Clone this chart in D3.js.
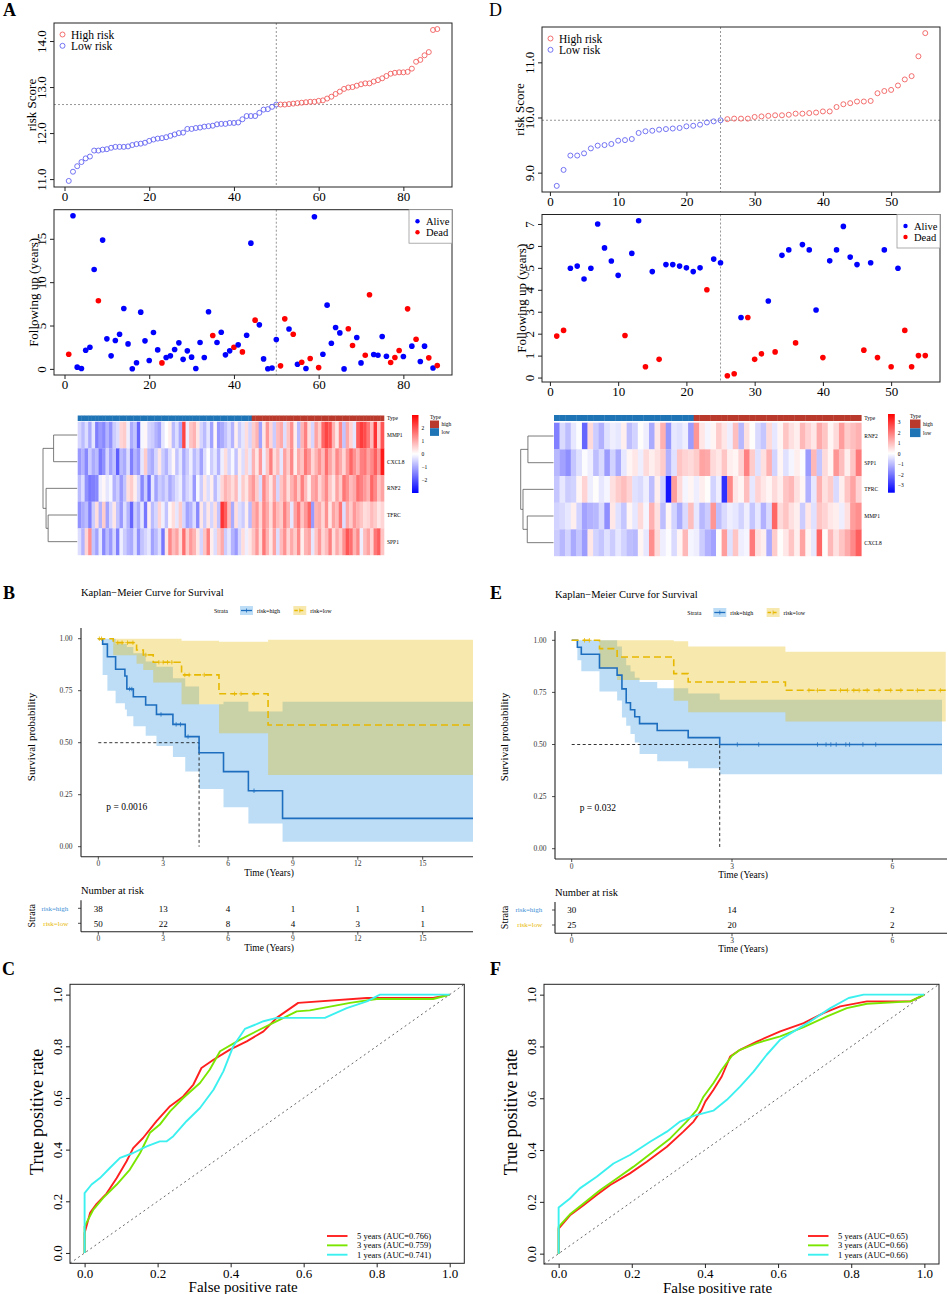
<!DOCTYPE html>
<html>
<head>
<meta charset="utf-8">
<script src="https://cdn.jsdelivr.net/npm/d3@7"></script>
<style>
  body { margin: 0; background: #fff; }
  svg { display: block; font-family: "Liberation Serif", "Times New Roman", serif; }
</style>
</head>
<body>
<div id="fig"></div>
<script>
// ---------------- data: risk score curves (A / D) ----------------
const riskScoreA = [10.96, 11.16, 11.28, 11.37, 11.45, 11.49, 11.62, 11.62, 11.64, 11.65,
  11.68, 11.70, 11.70, 11.70, 11.71, 11.74, 11.76, 11.77, 11.79, 11.83,
  11.86, 11.88, 11.89, 11.91, 11.94, 11.97, 12.00, 12.01, 12.09, 12.09,
  12.11, 12.12, 12.14, 12.15, 12.16, 12.19, 12.20, 12.20, 12.22, 12.22,
  12.23, 12.30, 12.37, 12.37, 12.37, 12.44, 12.51, 12.52, 12.57, 12.62,
  12.62, 12.62, 12.63, 12.64, 12.65, 12.66, 12.67, 12.68, 12.68, 12.70,
  12.71, 12.75, 12.79, 12.85, 12.90, 12.96, 12.99, 13.00, 13.03, 13.06,
  13.08, 13.08, 13.12, 13.15, 13.19, 13.24, 13.29, 13.31, 13.32, 13.32,
  13.33, 13.40, 13.55, 13.59, 13.69, 13.76, 14.24, 14.26];
const followUpA = [1.69, 17.65, 0.20, 0.05, 2.15, 2.50, 11.46, 7.85, 14.85, 3.46,
  1.50, 3.27, 4.00, 6.96, 2.88, 0.02, 0.70, 6.54, 3.23, 0.96,
  4.19, 2.19, 0.69, 1.31, 1.50, 2.23, 3.00, 1.10, 2.08, 1.35,
  0.05, 3.04, 1.31, 6.58, 3.85, 3.04, 4.23, 1.62, 2.08, 2.50,
  2.77, 1.96, 3.88, 14.50, 5.62, 5.08, 1.15, 0.02, 0.10, 3.38,
  0.35, 5.77, 4.60, 4.00, 0.54, 0.77, 0.04, 1.20, 17.54, 0.15,
  1.69, 7.35, 2.96, 4.77, 4.15, 0.00, 4.62, 2.69, 3.62, 0.69,
  1.58, 8.54, 1.65, 1.58, 3.73, 1.46, 0.73, 1.31, 2.12, 1.42,
  6.92, 2.62, 3.42, 0.85, 2.62, 1.27, 0.10, 0.38];
// 1 = Dead, 0 = Alive
const statusA = [1, 0, 0, 0, 0, 0, 0, 1, 0, 0,
  0, 0, 0, 0, 0, 0, 0, 0, 0, 0,
  0, 0, 1, 0, 0, 0, 0, 0, 0, 0,
  0, 0, 0, 0, 1, 0, 0, 0, 0, 1,
  0, 1, 0, 0, 1, 0, 0, 0, 0, 0,
  1, 1, 0, 1, 0, 1, 0, 1, 0, 1,
  0, 0, 0, 0, 0, 0, 1, 1, 0, 0,
  1, 1, 0, 0, 0, 0, 1, 1, 1, 0,
  1, 0, 1, 0, 0, 1, 0, 1];
const nLowA = 50;

const riskScoreD = [8.76, 9.05, 9.31, 9.31, 9.35, 9.44, 9.49, 9.50, 9.52, 9.58,
  9.59, 9.61, 9.72, 9.75, 9.76, 9.78, 9.79, 9.80, 9.81, 9.84,
  9.85, 9.87, 9.91, 9.93, 9.95, 9.97, 9.98, 9.98, 9.98, 10.01,
  10.02, 10.03, 10.04, 10.04, 10.05, 10.07, 10.07, 10.08, 10.09, 10.11,
  10.11, 10.19, 10.24, 10.26, 10.29, 10.29, 10.30, 10.44, 10.48, 10.50,
  10.58, 10.69, 10.75, 11.11, 11.53];
const followUpD = [1.89, 2.15, 4.98, 5.08, 4.49, 4.98, 7.00, 5.91, 5.31, 4.66,
  1.92, 5.66, 7.15, 0.49, 4.83, 0.83, 5.15, 5.15, 5.08, 5.00,
  4.83, 5.00, 4.00, 5.40, 5.23, 0.08, 0.17, 2.74, 2.74, 0.83,
  1.08, 3.49, 1.17, 5.57, 5.82, 1.58, 6.06, 5.82, 3.08, 0.91,
  5.32, 5.82, 6.89, 5.49, 5.15, 1.25, 5.23, 0.91, 5.82, 0.49,
  4.98, 2.15, 0.49, 1.00, 1.00];
const statusD = [1, 1, 0, 0, 0, 0, 0, 0, 0, 0,
  1, 0, 0, 1, 0, 1, 0, 0, 0, 0,
  0, 0, 1, 0, 0, 1, 1, 0, 1, 1,
  1, 0, 1, 0, 0, 1, 0, 0, 0, 1,
  0, 0, 0, 0, 0, 1, 0, 1, 0, 1,
  0, 1, 1, 1, 1];
const nLowD = 25;

// ---------------- data: heatmaps ----------------
const genesA = ["MMP1", "CXCL8", "RNF2", "TFRC", "SPP1"];
const heatA_MMP1 = [-0.5, -0.8, -0.4, -1.0, -0.3, -1.5, -1.2, -1.4, -0.9, -1.3,
  -0.6, -0.4, 0.5, 0.6, -0.2, -1.0, -0.7, -1.8, -0.1, 0.1,
  -0.5, -0.6, -0.9, -1.1, -0.3, 0.0, 0.2, -0.8, -0.4, -1.0,
  2.2, -0.2, 0.7, 0.9, 0.3, -0.5, -0.8, -0.3, -1.1, 0.1,
  -1.2, -1.0, -0.7, -0.4, -0.9, 0.2, -0.6, -0.3, 0.4, -0.5,
  0.6, 0.9, -1.1, 0.3, 1.2, 0.5, -0.6, 0.8, 1.0, -0.4,
  0.7, 1.3, 0.2, -0.8, 0.9, 1.5, 0.4, -0.5, 1.1, 0.6,
  1.8, 2.2, 2.0, 0.9, 0.3, 1.4, -0.7, 1.0, 0.5, -0.3,
  1.9, 2.3, 2.1, 1.6, 0.8, 2.4, 0.6, 2.0];
const heatA_CXCL8 = [-1.2, -0.9, -1.4, -0.6, -1.0, -0.8, -1.6, -1.3, -0.5, -1.1,
  -0.7, -1.9, -0.8, -1.0, -0.4, -1.5, -0.9, -1.2, -0.3, 0.6,
  -0.8, -1.0, -0.5, 0.3, -0.6, -0.9, -0.4, 0.1, -0.7, -0.3,
  -1.0, -0.6, -0.2, -0.8, -0.5, -1.1, -0.4, 0.0, -0.6, -0.3,
  -0.9, -0.2, 0.4, -0.5, -0.1, -0.7, 0.2, -0.4, 0.5, -0.3,
  0.9, 0.3, 1.2, -0.2, 0.7, 1.5, 0.4, 0.8, -0.3, 1.1,
  0.6, 1.4, 0.2, 1.0, 0.7, 1.6, 1.2, 0.5, 0.9, 1.3,
  0.8, 1.7, 1.1, 0.6, 1.4, 1.0, 0.5, 1.2, 1.8, 1.3,
  0.9, 1.5, 1.6, 1.1, 1.4, 1.9, 1.2, 2.7];
const heatA_RNF2 = [-0.8, -0.4, -1.3, -1.6, -1.5, -1.4, -0.2, 0.1, -0.3, -0.1,
  -0.9, -0.6, -1.2, -0.7, 0.4, 0.6, 0.2, -0.5, -1.4, -0.6,
  -1.7, -0.3, -1.1, -0.6, -0.8, -0.5, -1.0, -0.7, -0.4, -0.2,
  -0.9, -0.5, -0.3, -1.2, -0.1, -0.6, 0.3, -0.4, 0.2, -0.8,
  -0.3, 0.5, 0.9, 0.7, 0.4, 0.8, -0.2, 0.6, 0.3, 0.9,
  1.2, 0.6, -0.4, 1.4, 0.8, 0.3, 1.0, -0.5, 0.7, 1.1,
  0.4, 0.9, 1.3, 0.6, 1.5, 0.8, 0.2, 1.0, 1.2, 0.5,
  0.9, 1.4, 0.7, 0.3, 1.1, 0.6, 1.6, 1.3, 0.8, 1.0,
  1.7, 1.5, 1.2, 0.9, 1.8, 1.4, 0.7, 1.1];
const heatA_TFRC = [-1.3, -1.0, -0.8, -1.5, -0.6, 0.4, -0.9, 0.6, -1.1, -0.5,
  0.3, -0.7, -1.2, -0.4, -0.9, -1.8, -0.6, -1.0, -0.3, -1.6,
  0.2, -0.8, -0.5, 0.5, -0.2, -0.7, 0.1, 0.4, -0.3, 0.6,
  -0.5, -1.1, -0.9, -0.4, -1.4, 0.3, -0.6, 0.3, -0.5, 0.4,
  -0.7, 2.4, 1.9, 0.8, -1.0, 0.4, -0.4, -0.6, 0.2, -0.8,
  0.9, 1.2, 0.5, 1.4, 1.0, 0.4, 1.3, 0.8, 0.6, 1.5,
  0.9, -0.3, 1.1, 1.6, 0.7, 1.2, 1.8, -1.2, 0.9, 1.0,
  0.5, 1.3, 0.3, 1.1, 0.8, 1.6, -0.4, 1.0, 0.6, 1.2,
  0.9, 0.7, 0.4, 0.5, 0.8, 0.6, 0.3, 0.5];
const heatA_SPP1 = [-0.4, -0.9, 0.5, 1.3, -0.7, -1.1, -0.3, -1.4, -0.8, -1.2,
  -0.5, -1.5, -0.2, -0.6, -0.9, -1.0, -0.4, -1.3, -0.7, -0.5,
  -0.3, -1.1, -0.8, -0.4, -1.6, 0.3, 1.4, 0.8, 1.1, 0.4,
  1.7, 0.6, 1.2, 0.9, 0.3, -0.5, 0.7, 1.5, 0.2, -0.4,
  0.6, 1.0, -0.6, -0.3, -0.9, -1.2, -0.5, 0.4, -0.2, 0.3,
  0.7, 1.2, 0.4, 1.6, 0.9, 0.3, 1.1, -0.4, 0.8, 1.3,
  0.5, 1.0, 0.6, 1.4, 0.2, 0.9, 1.1, -0.3, 0.7, 1.2,
  0.5, 0.8, 1.5, 0.4, 1.0, 0.6, 1.3, 2.0, 1.7, 0.9,
  1.4, -0.2, 0.8, 1.1, 0.5, 1.6, 1.9, 0.7];
const heatRangeA = [-3, 3];
const heatTicksA = [2, 1, 0, -1, -2];
// hclust merges: [left, right, height]; >=0 leaf index, -k = k-th merge
const dendroA = [[0, 1, 6.9], [3, 4, 8.5], [2, -2, 9.1], [-1, -3, 10]];

const genesD = ["RNF2", "SPP1", "TFRC", "MMP1", "CXCL8"];
const heatD_RNF2 = [-1.8, -0.5, -0.9, -0.3, 0.0, -2.2, 0.6, -0.7, -1.1, -0.4,
  -0.2, -0.3, 0.3, -0.9, -0.6, 0.1, -0.2, -1.2, 0.4, 1.2,
  -1.5, -0.3, -0.4, -0.2, -1.4,
  1.6, 0.4, -0.1, 0.2, 0.8, 0.4, -0.2, 1.0, -1.0, 0.5,
  0.1, -0.5, -0.8, 0.6, -0.3, 0.2, 0.9, 0.5, 0.3, 1.1,
  0.7, 0.4, 1.3, 0.9, 0.2, 0.6, 1.5, 0.8, 1.0, 1.2];
const heatD_SPP1 = [-1.0, -1.3, -1.6, -0.8, -0.4, 0.0, -0.2, -0.9, -0.5, -1.4,
  -0.6, -1.2, -0.3, 0.2, 0.4, -0.2, 0.6, 0.3, 0.5, 0.8,
  -1.1, -0.4, 0.9, 0.7, 0.6,
  0.8, 1.4, 1.3, 0.6, 0.4, 0.9, 0.3, 0.2, 0.7, 1.9,
  0.8, -0.4, 0.5, 1.2, -0.6, 0.2, -0.4, -0.1, 0.3, 0.0,
  -1.4, 1.1, -0.8, 0.6, 0.2, 1.6, 1.0, 0.3, 0.9, 2.0];
const heatD_TFRC = [-0.8, -0.3, -0.7, -0.6, 0.2, 0.7, -0.2, 0.1, -0.3, -0.1,
  0.5, 0.8, 1.0, 0.7, -0.4, -0.5, -0.2, -0.9, 0.3, -0.6,
  -3.4, 1.5, 0.6, -0.1, 0.2,
  -0.2, 0.3, 0.1, -0.6, -0.2, -3.0, 1.8, 0.4, 0.2, 1.0,
  -0.3, 0.7, 0.4, 0.2, 0.6, 0.3, 0.9, 1.1, 0.5, 0.2,
  -1.1, -0.3, 1.2, 0.5, 0.8, -0.5, 0.3, 0.9, 1.4, 0.7];
const heatD_MMP1 = [-0.6, -0.5, -0.3, 0.3, -0.6, -1.3, -1.1, -1.0, -0.5, -1.6,
  0.4, -0.4, -0.8, 0.2, -0.3, 0.6, -0.1, 1.2, 0.5, -0.9,
  0.2, -0.6, -1.2, -0.5, 1.0,
  -0.3, -1.0, -0.7, 1.6, -0.9, -0.5, -0.2, -0.3, -0.6, -0.2,
  -0.8, -0.3, -1.1, -0.5, 2.3, 0.6, 0.9, 0.5, 0.3, -0.7,
  0.4, -0.4, 0.9, 0.7, 0.4, 0.3, -0.2, 0.5, 1.5, 1.7];
const heatD_CXCL8 = [-0.7, -1.0, -0.6, -1.2, -0.8, -1.4, 0.4, -0.6, -0.8, -0.4,
  -0.7, -0.3, -0.6, -0.9, -1.0, 0.2, -0.3, 1.7, 0.6, -0.2,
  0.0, -0.5, 0.2, 1.1, -0.1,
  -0.2, -0.7, -1.1, -1.3, 0.1, 1.5, -0.4, 0.9, -0.2, -0.1,
  2.0, 0.5, 0.3, -1.2, 0.8, 0.1, 0.4, 0.9, 0.3, 1.4,
  0.2, -0.3, 2.3, 0.1, 1.1, 0.5, 0.9, 1.3, 1.8, 2.4];
const heatRangeD = [-3.7, 3.8];
const heatTicksD = [3, 2, 1, 0, -1, -2, -3];
const dendroD = [[0, 1, 7.8], [3, 4, 8.0], [2, -2, 9.3], [-1, -3, 10]];

// ---------------- data: Kaplan-Meier (B / E) ----------------
const kmB_high_time = [0, 0.2, 0.42, 0.8, 1.23, 1.32, 1.62, 2.19, 2.69, 3.45, 4.02, 4.66, 5.79, 6.94, 8.52];
const kmB_high_surv = [1, 0.974, 0.913, 0.853, 0.821, 0.758, 0.721, 0.681, 0.636, 0.588, 0.529, 0.452, 0.361, 0.269, 0.136];
const kmB_high_lower = [1, 0.825, 0.75, 0.69, 0.66, 0.627, 0.579, 0.534, 0.484, 0.431, 0.361, 0.277, 0.19, 0.112, 0.024];
const kmB_high_upper = [1, 1, 1, 0.975, 0.975, 0.96, 0.93, 0.89, 0.865, 0.81, 0.77, 0.685, 0.697, 0.65, 0.697];
const kmB_high_censor = [1.45, 1.55, 2.9, 3.6, 3.8, 4.15, 7.2];
const kmB_low_time = [0, 0.69, 1.77, 2.08, 2.54, 3.85, 5.58, 7.85];
const kmB_low_surv = [1, 0.981, 0.946, 0.922, 0.887, 0.826, 0.735, 0.585];
const kmB_low_lower = [1, 0.92, 0.88, 0.85, 0.79, 0.685, 0.545, 0.345];
const kmB_low_upper = [1, 1, 1, 1, 1, 0.99, 0.985, 0.995];
const kmB_low_censor = [0.05, 0.15, 0.9, 1.1, 1.35, 1.6, 2.2, 2.8, 3.0, 3.2, 3.4, 4.0, 4.2, 4.9, 6.3, 6.6, 7.2];
const kmB_end = [17.5, 17.65];
const kmB_median = 4.66;
const riskTimesB = [0, 3, 6, 9, 12, 15];
const atRiskB_high = [38, 13, 4, 1, 1, 1];
const atRiskB_low = [50, 22, 8, 4, 3, 1];

const kmE_high_time = [0, 0.106, 0.18, 0.52, 0.85, 0.94, 1.02, 1.10, 1.18, 1.27, 1.60, 2.18, 2.77];
const kmE_high_surv = [1, 0.967, 0.933, 0.867, 0.833, 0.767, 0.70, 0.667, 0.633, 0.60, 0.567, 0.533, 0.50];
const kmE_high_lower = [1, 0.904, 0.851, 0.754, 0.711, 0.63, 0.59, 0.55, 0.51, 0.454, 0.42, 0.386, 0.357];
const kmE_high_upper = [1, 1, 1, 1, 0.97, 0.92, 0.88, 0.85, 0.82, 0.80, 0.77, 0.745, 0.715];
const kmE_high_censor = [3.1, 3.5, 4.6, 4.76, 4.85, 4.95, 5.13, 5.2, 5.45, 5.69];
const kmE_low_time = [0, 0.52, 0.85, 1.91, 2.18, 4.0];
const kmE_low_surv = [1, 0.96, 0.92, 0.84, 0.80, 0.76];
const kmE_low_lower = [1, 0.862, 0.81, 0.71, 0.655, 0.61];
const kmE_low_upper = [1, 1, 1, 0.995, 0.97, 0.945];
const kmE_low_censor = [0.24, 0.33, 4.44, 4.6, 5.03, 5.16, 5.28, 5.38, 5.53, 5.75, 5.97, 6.16, 6.47, 6.9];
const kmE_end = [6.93, 7.0];
const kmE_median = 2.77;
const riskTimesE = [0, 3, 6];
const atRiskE_high = [30, 14, 2];
const atRiskE_low = [25, 20, 2];

// ---------------- data: time-dependent ROC (C / F) ----------------
const rocC_5y_fpr = [0, 0, 0.015, 0.033, 0.06, 0.088, 0.115, 0.133, 0.16, 0.197, 0.234, 0.27, 0.298, 0.32, 0.353, 0.398, 0.444, 0.49, 0.526, 0.585, 0.773, 0.955, 1.0];
const rocC_5y_tpr = [0, 0.077, 0.155, 0.19, 0.23, 0.29, 0.355, 0.406, 0.445, 0.51, 0.568, 0.606, 0.652, 0.716, 0.748, 0.787, 0.819, 0.858, 0.91, 0.968, 0.987, 0.987, 1.0];
const rocC_3y_fpr = [0, 0, 0.024, 0.051, 0.088, 0.124, 0.152, 0.179, 0.206, 0.234, 0.27, 0.316, 0.343, 0.371, 0.426, 0.48, 0.535, 0.581, 0.617, 0.727, 0.8, 0.955, 1.0];
const rocC_3y_tpr = [0, 0.103, 0.168, 0.213, 0.265, 0.323, 0.387, 0.465, 0.497, 0.548, 0.6, 0.658, 0.71, 0.781, 0.826, 0.865, 0.903, 0.935, 0.939, 0.968, 0.983, 0.983, 1.0];
const rocC_1y_fpr = [0, 0, 0.019, 0.042, 0.069, 0.097, 0.133, 0.17, 0.206, 0.225, 0.243, 0.279, 0.316, 0.353, 0.38, 0.407, 0.439, 0.49, 0.526, 0.658, 0.718, 0.773, 0.809, 1.0];
const rocC_1y_tpr = [0, 0.232, 0.265, 0.29, 0.329, 0.368, 0.387, 0.413, 0.432, 0.432, 0.452, 0.51, 0.561, 0.632, 0.703, 0.8, 0.867, 0.897, 0.91, 0.91, 0.948, 0.974, 1.0, 1.0];
const aucC = ["0.766", "0.759", "0.741"];

const rocF_5y_fpr = [0, 0, 0.031, 0.068, 0.104, 0.141, 0.195, 0.241, 0.296, 0.341, 0.369, 0.391, 0.401, 0.423, 0.446, 0.469, 0.496, 0.542, 0.606, 0.67, 0.724, 0.77, 0.843, 0.962, 1.0];
const rocF_5y_tpr = [0, 0.097, 0.148, 0.187, 0.226, 0.265, 0.31, 0.355, 0.413, 0.471, 0.51, 0.555, 0.587, 0.632, 0.684, 0.761, 0.787, 0.819, 0.858, 0.89, 0.929, 0.955, 0.974, 0.974, 1.0];
const rocF_3y_fpr = [0, 0, 0.031, 0.068, 0.113, 0.159, 0.204, 0.259, 0.305, 0.35, 0.378, 0.396, 0.423, 0.446, 0.474, 0.496, 0.542, 0.606, 0.67, 0.734, 0.788, 0.843, 0.962, 1.0];
const rocF_3y_tpr = [0, 0.103, 0.152, 0.194, 0.245, 0.29, 0.335, 0.394, 0.445, 0.51, 0.555, 0.606, 0.658, 0.71, 0.764, 0.787, 0.813, 0.839, 0.875, 0.916, 0.948, 0.965, 0.974, 1.0];
const rocF_1y_fpr = [0, 0, 0.031, 0.058, 0.104, 0.15, 0.195, 0.25, 0.296, 0.332, 0.369, 0.423, 0.46, 0.496, 0.533, 0.569, 0.606, 0.651, 0.688, 0.743, 0.793, 0.834, 1.0];
const rocF_1y_tpr = [0, 0.178, 0.213, 0.252, 0.297, 0.348, 0.381, 0.432, 0.471, 0.51, 0.532, 0.552, 0.594, 0.645, 0.703, 0.768, 0.826, 0.865, 0.897, 0.948, 0.987, 1.0, 1.0];
const aucF = ["0.65", "0.66", "0.66"];
const rocYears = ["5 years", "3 years", "1 years"];

// ---------------- styles ----------------
const FONT = '"Liberation Serif", "Times New Roman", serif';
const LOW_PT = "#6464f2", HIGH_PT = "#f25f5f";
const TYPE_LOW = "#1f74b5", TYPE_HIGH = "#b93a2c";
const KM_HIGH = "#1e6ec0", KM_HIGH_FILL = "#2e95df", KM_LOW = "#e7b800";
const ROC_COLS = ["#ff1f1f", "#7ae600", "#3cf0f0"];

const W = 948, H = 1294;
const svg = d3.select("#fig").append("svg")
  .attr("width", W).attr("height", H)
  .attr("viewBox", "0 0 " + W + " " + H);
const defs = svg.append("defs");

function txt(g, x, y, s, size, opt) {
  opt = opt || {};
  const t = g.append("text").attr("x", x).attr("y", y)
    .attr("font-size", size).attr("font-family", FONT).text(s);
  if (opt.anchor) t.attr("text-anchor", opt.anchor);
  if (opt.weight) t.attr("font-weight", opt.weight);
  t.attr("fill", opt.fill || "#000");
  if (opt.rotate) t.attr("dy", "0.35em").attr("transform", "rotate(-90," + x + "," + y + ")");
  return t;
}

// R style padded scale (4% each side)
function padScale(vals, r0, r1) {
  const e = d3.extent(vals), p = (e[1] - e[0]) * 0.04;
  return d3.scaleLinear().domain([e[0] - p, e[1] + p]).range([r0, r1]);
}

// base-graphics like axis
function rAxis(g, scale, ticks, orient, pos, fmt, size) {
  const ax = (orient === "bottom" ? d3.axisBottom(scale) : d3.axisLeft(scale))
    .tickValues(ticks).tickSize(4).tickPadding(1).tickFormat(fmt);
  const a = g.append("g")
    .attr("transform", orient === "bottom" ? "translate(0," + pos + ")" : "translate(" + pos + ",0)")
    .call(ax);
  a.select(".domain").remove();
  a.selectAll("line").attr("stroke", "#222");
  a.selectAll("text").attr("font-size", size).attr("font-family", FONT).attr("fill", "#000");
  if (orient === "left") {
    a.selectAll("text").attr("transform", "rotate(-90)")
      .attr("x", 0).attr("y", -8).attr("dy", 0).attr("text-anchor", "middle");
  }
  return a;
}

function box(g, o) {
  g.append("rect").attr("x", o.x0).attr("y", o.y0)
    .attr("width", o.x1 - o.x0).attr("height", o.y1 - o.y0)
    .attr("fill", "none").attr("stroke", "#222").attr("stroke-width", 1);
}

function dotted(g, x1, y1, x2, y2) {
  g.append("line").attr("x1", x1).attr("y1", y1).attr("x2", x2).attr("y2", y2)
    .attr("stroke", "#8a8a8a").attr("stroke-width", 0.9).attr("stroke-dasharray", "2,2");
}

// ---------------- risk score scatter ----------------
function riskPanel(o) {
  const n = o.score.length, idx = d3.range(1, n + 1);
  const x = padScale(idx, o.x0, o.x1), y = padScale(o.score, o.y1, o.y0);
  const g = svg.append("g");
  const cut = o.score[o.nLow - 1];
  dotted(g, x(o.nLow), o.y0, x(o.nLow), o.y1);
  dotted(g, o.x0, y(cut), o.x1, y(cut));
  g.selectAll(null).data(idx).enter().append("circle")
    .attr("cx", i => x(i)).attr("cy", i => y(o.score[i - 1])).attr("r", 2.5)
    .attr("fill", "none").attr("stroke-width", 0.9)
    .attr("stroke", i => i <= o.nLow ? LOW_PT : HIGH_PT);
  box(g, o);
  rAxis(g, x, o.xTicks, "bottom", o.y1, d3.format("d"), 13);
  rAxis(g, y, o.yTicks, "left", o.x0, d3.format(".1f"), 13);
  txt(g, o.x0 - 23, (o.y0 + o.y1) / 2, "risk Score", 13, { anchor: "middle", rotate: true });
  [["High risk", HIGH_PT], ["Low risk", LOW_PT]].forEach((d, i) => {
    g.append("circle").attr("cx", o.x0 + 8.5).attr("cy", o.y0 + 11.5 + i * 11.3).attr("r", 2.5)
      .attr("fill", "none").attr("stroke", d[1]).attr("stroke-width", 0.9);
    txt(g, o.x0 + 17, o.y0 + 15.5 + i * 11.3, d[0], 11.5);
  });
}

// ---------------- follow-up scatter ----------------
function followPanel(o) {
  const n = o.time.length, idx = d3.range(1, n + 1);
  const x = padScale(idx, o.x0, o.x1), y = padScale(o.time, o.y1, o.y0);
  const g = svg.append("g");
  dotted(g, x(o.nLow), o.y0, x(o.nLow), o.y1);
  g.selectAll(null).data(idx).enter().append("circle")
    .attr("cx", i => x(i)).attr("cy", i => y(o.time[i - 1])).attr("r", 2.8)
    .attr("fill", i => o.status[i - 1] ? "#ff0000" : "#0000ff");
  box(g, o);
  rAxis(g, x, o.xTicks, "bottom", o.y1, d3.format("d"), 13);
  rAxis(g, y, o.yTicks, "left", o.x0, d3.format("d"), 13);
  txt(g, o.x0 - 21, (o.y0 + o.y1) / 2, "Following up (years)", 13, { anchor: "middle", rotate: true });
  const lw = 43, lh = 33.5;
  g.append("rect").attr("x", o.x1 - lw).attr("y", o.y0).attr("width", lw).attr("height", lh)
    .attr("fill", "#fff").attr("stroke", "#9a9a9a").attr("stroke-width", 0.8);
  [["Alive", "#0000ff"], ["Dead", "#ff0000"]].forEach((d, i) => {
    g.append("circle").attr("cx", o.x1 - lw + 8.5).attr("cy", o.y0 + 11.5 + i * 11).attr("r", 2.2).attr("fill", d[1]);
    txt(g, o.x1 - lw + 17, o.y0 + 15 + i * 11, d[0], 10.5);
  });
}

// ---------------- heatmap ----------------
function heatPanel(o) {
  const nCol = o.rows[0].length;
  const xb = d3.scaleBand().domain(d3.range(nCol)).range([o.x0, o.x1]);
  const yb = d3.scaleBand().domain(o.genes).range([o.y0, o.y1]);
  const col = d3.scaleLinear()
    .domain([o.range[0], (o.range[0] + o.range[1]) / 2, o.range[1]])
    .range(["#0000ff", "#ffffff", "#ff0000"]).clamp(true);
  const g = svg.append("g");
  g.selectAll(null).data(d3.range(nCol)).enter().append("rect")
    .attr("x", i => xb(i)).attr("y", o.ty0).attr("width", xb.bandwidth() + 0.3)
    .attr("height", o.ty1 - o.ty0).attr("fill", i => i < o.nLow ? TYPE_LOW : TYPE_HIGH);
  const cells = [];
  o.rows.forEach((r, gi) => r.forEach((v, ci) => cells.push({ g: o.genes[gi], c: ci, v: v })));
  g.selectAll(null).data(cells).enter().append("rect")
    .attr("x", d => xb(d.c)).attr("y", d => yb(d.g))
    .attr("width", xb.bandwidth() + 0.3).attr("height", yb.bandwidth() + 0.2)
    .attr("fill", d => col(d.v));
  txt(g, o.x1 + 3, (o.ty0 + o.ty1) / 2 + 2, "Type", 5.5);
  o.genes.forEach(gn => txt(g, o.x1 + 3, yb(gn) + yb.bandwidth() / 2 + 2, gn, 5.5));

  // dendrogram
  const dx = d3.scaleLinear().domain([0, o.dendroMax]).range([o.x0 - 0.5, o.dendroX]);
  const nodes = [];
  const pos = k => k >= 0 ? { y: yb(o.genes[k]) + yb.bandwidth() / 2, h: 0 } : nodes[-k - 1];
  o.merges.forEach(m => {
    const a = pos(m[0]), b = pos(m[1]), hx = dx(m[2]);
    g.append("path")
      .attr("d", "M" + dx(a.h) + "," + a.y + "H" + hx + "V" + b.y + "H" + dx(b.h))
      .attr("fill", "none").attr("stroke", "#5a5a5a").attr("stroke-width", 0.8);
    nodes.push({ y: (a.y + b.y) / 2, h: m[2] });
  });

  // colour key
  const grad = defs.append("linearGradient").attr("id", "grad" + o.id)
    .attr("x1", 0).attr("x2", 0).attr("y1", 0).attr("y2", 1);
  d3.range(0, 1.0001, 0.05).forEach(f => grad.append("stop").attr("offset", f)
    .attr("stop-color", col(o.range[1] - f * (o.range[1] - o.range[0]))));
  g.append("rect").attr("x", o.kx).attr("y", o.ky0).attr("width", o.kw).attr("height", o.ky1 - o.ky0)
    .attr("fill", "url(#grad" + o.id + ")");
  const ks = d3.scaleLinear().domain([o.range[1], o.range[0]]).range([o.ky0, o.ky1]);
  o.ticks.forEach(t => txt(g, o.kx + o.kw + 3, ks(t) + 1.8, t < 0 ? "\u2212" + (-t) : String(t), 5.5));

  // annotation legend
  txt(g, o.tx, o.ky0 + 3.5, "Type", 5.5);
  [["high", TYPE_HIGH], ["low", TYPE_LOW]].forEach((d, i) => {
    g.append("rect").attr("x", o.tx).attr("y", o.ky0 + 5.5 + i * o.sh).attr("width", o.sw).attr("height", o.sh)
      .attr("fill", d[1]);
    txt(g, o.tx + o.sw + 2.5, o.ky0 + 5.5 + i * o.sh + o.sh / 2 + 2, d[0], 5.5);
  });
}

// ---------------- Kaplan-Meier ----------------
function kmPanel(o) {
  const x = d3.scaleLinear().domain([0, o.tRef]).range([o.px0, o.pxRef]);
  const y = d3.scaleLinear().domain([0, 1]).range([o.py0, o.py1]);
  const g = svg.append("g");
  defs.append("clipPath").attr("id", "clip" + o.id).append("rect")
    .attr("x", o.ax).attr("y", o.top).attr("width", o.right - o.ax).attr("height", o.axY - o.top);
  const pg = g.append("g").attr("clip-path", "url(#clip" + o.id + ")");
  const series = o.curves.map(c => {
    const pts = c.time.map((t, i) => ({ t: t, s: c.surv[i], lo: c.lower[i], up: c.upper[i] }));
    pts.push(Object.assign({}, pts[pts.length - 1], { t: c.end }));
    return { c: c, pts: pts };
  });
  series.forEach(sr => {
    pg.append("path")
      .attr("d", d3.area().curve(d3.curveStepAfter).x(d => x(d.t)).y0(d => y(d.lo)).y1(d => y(d.up))(sr.pts))
      .attr("fill", sr.c.fill).attr("fill-opacity", 0.32);
  });
  pg.append("path")
    .attr("d", "M" + x(0) + "," + y(0.5) + "H" + x(o.median) + "V" + y(0))
    .attr("fill", "none").attr("stroke", "#000").attr("stroke-width", 0.8).attr("stroke-dasharray", "3,2.5");
  series.forEach(sr => {
    pg.append("path")
      .attr("d", d3.line().curve(d3.curveStepAfter).x(d => x(d.t)).y(d => y(d.s))(sr.pts))
      .attr("fill", "none").attr("stroke", sr.c.color).attr("stroke-width", 1.6)
      .attr("stroke-dasharray", sr.c.dash || null);
    sr.c.censor.forEach(ct => {
      const s = sr.c.surv[d3.bisectRight(sr.c.time, ct) - 1];
      pg.append("path").attr("d", "M" + (x(ct) - 2.2) + "," + y(s) + "h4.4M" + x(ct) + "," + (y(s) - 2.2) + "v4.4")
        .attr("stroke", sr.c.color).attr("stroke-width", 0.8);
    });
  });

  // axes
  const ax = g.append("g").attr("stroke", "#222");
  ax.append("line").attr("x1", o.ax).attr("x2", o.ax).attr("y1", o.top).attr("y2", o.axY).attr("stroke-width", 1.1);
  ax.append("line").attr("x1", o.ax).attr("x2", o.right).attr("y1", o.axY).attr("y2", o.axY).attr("stroke-width", 1.1);
  const yt = [0, 0.25, 0.5, 0.75, 1];
  yt.forEach(v => {
    ax.append("line").attr("x1", o.ax - 3).attr("x2", o.ax).attr("y1", y(v)).attr("y2", y(v)).attr("stroke-width", 0.8);
    txt(g, o.ax - 8.5, y(v) + 2.6, d3.format(".2f")(v), 7.5, { anchor: "end", fill: "#333" });
  });
  o.ticks.forEach(t => {
    ax.append("line").attr("x1", x(t)).attr("x2", x(t)).attr("y1", o.axY).attr("y2", o.axY + 3).attr("stroke-width", 0.8);
    txt(g, x(t), o.axY + 9.5, String(t), 7.5, { anchor: "middle", fill: "#333" });
  });
  txt(g, (o.ax + o.right) / 2 - 8, o.axY + 19, "Time (Years)", 9.5, { anchor: "middle" });
  txt(g, o.ylabX, o.ylabY, "Survival probability", 11, { anchor: "middle", rotate: true });
  txt(g, o.px0 + 8, o.pY, o.pText, 9.5);
  txt(g, o.ax, o.titleY, "Kaplan\u2212Meier Curve for Survival", 10.5);

  // legend
  txt(g, o.legX, o.legY + 2, "Strata", 6);
  o.curves.forEach((c, i) => {
    const lx = o.legX + 26 + i * 53.3;
    g.append("rect").attr("x", lx).attr("y", o.legY - 4.5).attr("width", 13).attr("height", 9)
      .attr("fill", c.fill).attr("fill-opacity", 0.32);
    g.append("line").attr("x1", lx + 1).attr("x2", lx + 12).attr("y1", o.legY).attr("y2", o.legY)
      .attr("stroke", c.color).attr("stroke-width", 1.3).attr("stroke-dasharray", c.dash ? "3.5,2" : null);
    g.append("line").attr("x1", lx + 6.5).attr("x2", lx + 6.5).attr("y1", o.legY - 2).attr("y2", o.legY + 2)
      .attr("stroke", c.color).attr("stroke-width", 0.8);
    txt(g, lx + 17, o.legY + 2, c.name, 6);
  });

  // number at risk table
  txt(g, o.ax, o.tabTitleY, "Number at risk", 10.5);
  const tab = g.append("g").attr("stroke", "#222");
  tab.append("line").attr("x1", o.ax).attr("x2", o.ax).attr("y1", o.rowY[0] - 8).attr("y2", o.tabAxY).attr("stroke-width", 1.1);
  tab.append("line").attr("x1", o.ax).attr("x2", o.right).attr("y1", o.tabAxY).attr("y2", o.tabAxY).attr("stroke-width", 1.1);
  o.curves.forEach((c, i) => {
    tab.append("line").attr("x1", o.ax - 3).attr("x2", o.ax).attr("y1", o.rowY[i]).attr("y2", o.rowY[i]).attr("stroke-width", 0.8);
    txt(g, o.ax - 12.7, o.rowY[i] + 2.4, c.name, 7, { anchor: "end", fill: c.label });
    o.riskTimes.forEach((t, j) => txt(g, x(t), o.rowY[i] + 3.2, String(c.atRisk[j]), 9, { anchor: "middle" }));
  });
  o.riskTimes.forEach(t => {
    tab.append("line").attr("x1", x(t)).attr("x2", x(t)).attr("y1", o.tabAxY).attr("y2", o.tabAxY + 3).attr("stroke-width", 0.8);
    txt(g, x(t), o.tabAxY + 9.5, String(t), 7.5, { anchor: "middle", fill: "#333" });
  });
  txt(g, (o.ax + o.right) / 2 - 8, o.tabAxY + 19, "Time (Years)", 9.5, { anchor: "middle" });
  txt(g, o.ylabX, (o.rowY[0] + o.rowY[1]) / 2, "Strata", 10, { anchor: "middle", rotate: true });
}

// ---------------- ROC ----------------
function rocPanel(o) {
  const x = d3.scaleLinear().domain([-0.04, 1.04]).range([o.x0, o.x1]);
  const y = d3.scaleLinear().domain([-0.04, 1.04]).range([o.y1, o.y0]);
  const g = svg.append("g");
  g.append("line").attr("x1", x(-0.04)).attr("y1", y(-0.04)).attr("x2", x(1.04)).attr("y2", y(1.04))
    .attr("stroke", "#666").attr("stroke-width", 1).attr("stroke-dasharray", "2,3");
  o.curves.forEach((c, i) => {
    const pts = c.fpr.map((f, k) => [f, c.tpr[k]]);
    g.append("path").attr("d", d3.line().x(d => x(d[0])).y(d => y(d[1]))(pts))
      .attr("fill", "none").attr("stroke", ROC_COLS[i]).attr("stroke-width", 1.9)
      .attr("stroke-linejoin", "round");
  });
  box(g, o);
  const t = d3.range(0, 1.0001, 0.2);
  rAxis(g, x, t, "bottom", o.y1, d3.format(".1f"), 13);
  rAxis(g, y, t, "left", o.x0, d3.format(".1f"), 13);
  txt(g, o.x0 - 33, (o.y0 + o.y1) / 2 - 12, "True positive rate", 18, { anchor: "middle", rotate: true });
  txt(g, (o.x0 + o.x1) / 2 - 24, o.y1 + 28.5, "False positive rate", 15, { anchor: "middle" });
  o.curves.forEach((c, i) => {
    const ly = o.legY + i * 9.35;
    g.append("line").attr("x1", o.legX).attr("x2", o.legX + 20.5).attr("y1", ly).attr("y2", ly)
      .attr("stroke", ROC_COLS[i]).attr("stroke-width", 1.9);
    txt(g, o.legX + o.legGap, ly + 2.8, rocYears[i] + " (AUC=" + c.auc + ")", 8.5);
  });
}

// ---------------- panel labels ----------------
txt(svg, 3, 16, "A", 18, { weight: "bold" });
txt(svg, 489, 16, "D", 18);
txt(svg, 3, 598.5, "B", 18, { weight: "bold" });
txt(svg, 490, 599, "E", 18, { weight: "bold" });
txt(svg, 2, 975, "C", 18, { weight: "bold" });
txt(svg, 490, 975, "F", 18, { weight: "bold" });

// ---------------- draw ----------------
riskPanel({ score: riskScoreA, nLow: nLowA, x0: 54, x1: 452, y0: 23, y1: 187,
  xTicks: [0, 20, 40, 60, 80], yTicks: [11, 12, 13, 14] });
followPanel({ time: followUpA, status: statusA, nLow: nLowA, x0: 54, x1: 452, y0: 209.7, y1: 375,
  xTicks: [0, 20, 40, 60, 80], yTicks: [0, 5, 10, 15] });
riskPanel({ score: riskScoreD, nLow: nLowD, x0: 542, x1: 940, y0: 27, y1: 192,
  xTicks: [0, 10, 20, 30, 40, 50], yTicks: [9, 10, 11] });
followPanel({ time: followUpD, status: statusD, nLow: nLowD, x0: 542, x1: 940, y0: 214.5, y1: 382,
  xTicks: [0, 10, 20, 30, 40, 50], yTicks: [0, 1, 2, 3, 4, 5, 6, 7] });

heatPanel({ id: "A", genes: genesA, rows: [heatA_MMP1, heatA_CXCL8, heatA_RNF2, heatA_TFRC, heatA_SPP1],
  nLow: nLowA, range: heatRangeA, ticks: heatTicksA, merges: dendroA, dendroMax: 10,
  x0: 77.7, x1: 384, ty0: 415.5, ty1: 421, y0: 421.7, y1: 555, dendroX: 43,
  kx: 412, kw: 6.5, ky0: 415, ky1: 493, tx: 430, sw: 9, sh: 7.7 });
heatPanel({ id: "D", genes: genesD, rows: [heatD_RNF2, heatD_SPP1, heatD_TFRC, heatD_MMP1, heatD_CXCL8],
  nLow: nLowD, range: heatRangeD, ticks: heatTicksD, merges: dendroD, dendroMax: 10,
  x0: 554, x1: 861.3, ty0: 415, ty1: 421, y0: 422.7, y1: 556, dendroX: 520.7,
  kx: 888, kw: 6.8, ky0: 414, ky1: 492.7, tx: 910, sw: 10.5, sh: 8.8 });

kmPanel({ id: "B", tRef: 15, px0: 98.3, pxRef: 422.7, py0: 846.7, py1: 638.7,
  ax: 81, right: 473, top: 628, axY: 856.7, ticks: [0, 3, 6, 9, 12, 15], median: kmB_median,
  pText: "p = 0.0016", pY: 809.5, titleY: 596, legX: 214, legY: 610.5,
  ylabX: 31.5, ylabY: 737, tabTitleY: 894, rowY: [908.3, 923.3], tabAxY: 931.7, riskTimes: riskTimesB,
  curves: [
    { name: "risk=high", time: kmB_high_time, surv: kmB_high_surv, lower: kmB_high_lower, upper: kmB_high_upper,
      censor: kmB_high_censor, end: kmB_end[0], color: KM_HIGH, fill: KM_HIGH_FILL, label: "#3d8fd6", atRisk: atRiskB_high },
    { name: "risk=low", time: kmB_low_time, surv: kmB_low_surv, lower: kmB_low_lower, upper: kmB_low_upper,
      censor: kmB_low_censor, end: kmB_end[1], color: KM_LOW, fill: KM_LOW, label: KM_LOW, dash: "7,4", atRisk: atRiskB_low }
  ] });
kmPanel({ id: "E", tRef: 6, px0: 571.7, pxRef: 892.3, py0: 848.7, py1: 640.3,
  ax: 555, right: 947, top: 631, axY: 859, ticks: [0, 3, 6], median: kmE_median,
  pText: "p = 0.032", pY: 811, titleY: 598, legX: 687.3, legY: 612.5,
  ylabX: 504.5, ylabY: 737, tabTitleY: 895.5, rowY: [910, 925], tabAxY: 933.3, riskTimes: riskTimesE,
  curves: [
    { name: "risk=high", time: kmE_high_time, surv: kmE_high_surv, lower: kmE_high_lower, upper: kmE_high_upper,
      censor: kmE_high_censor, end: kmE_end[0], color: KM_HIGH, fill: KM_HIGH_FILL, label: "#3d8fd6", atRisk: atRiskE_high },
    { name: "risk=low", time: kmE_low_time, surv: kmE_low_surv, lower: kmE_low_lower, upper: kmE_low_upper,
      censor: kmE_low_censor, end: kmE_end[1], color: KM_LOW, fill: KM_LOW, label: KM_LOW, dash: "7,4", atRisk: atRiskE_low }
  ] });

rocPanel({ x0: 70, x1: 464.3, y0: 984.3, y1: 1263.3, legX: 327, legGap: 30, legY: 1236,
  curves: [
    { fpr: rocC_5y_fpr, tpr: rocC_5y_tpr, auc: aucC[0] },
    { fpr: rocC_3y_fpr, tpr: rocC_3y_tpr, auc: aucC[1] },
    { fpr: rocC_1y_fpr, tpr: rocC_1y_tpr, auc: aucC[2] }
  ] });
rocPanel({ x0: 544, x1: 939, y0: 984.3, y1: 1264, legX: 808, legGap: 30, legY: 1236,
  curves: [
    { fpr: rocF_5y_fpr, tpr: rocF_5y_tpr, auc: aucF[0] },
    { fpr: rocF_3y_fpr, tpr: rocF_3y_tpr, auc: aucF[1] },
    { fpr: rocF_1y_fpr, tpr: rocF_1y_tpr, auc: aucF[2] }
  ] });
</script>
</body>
</html>
